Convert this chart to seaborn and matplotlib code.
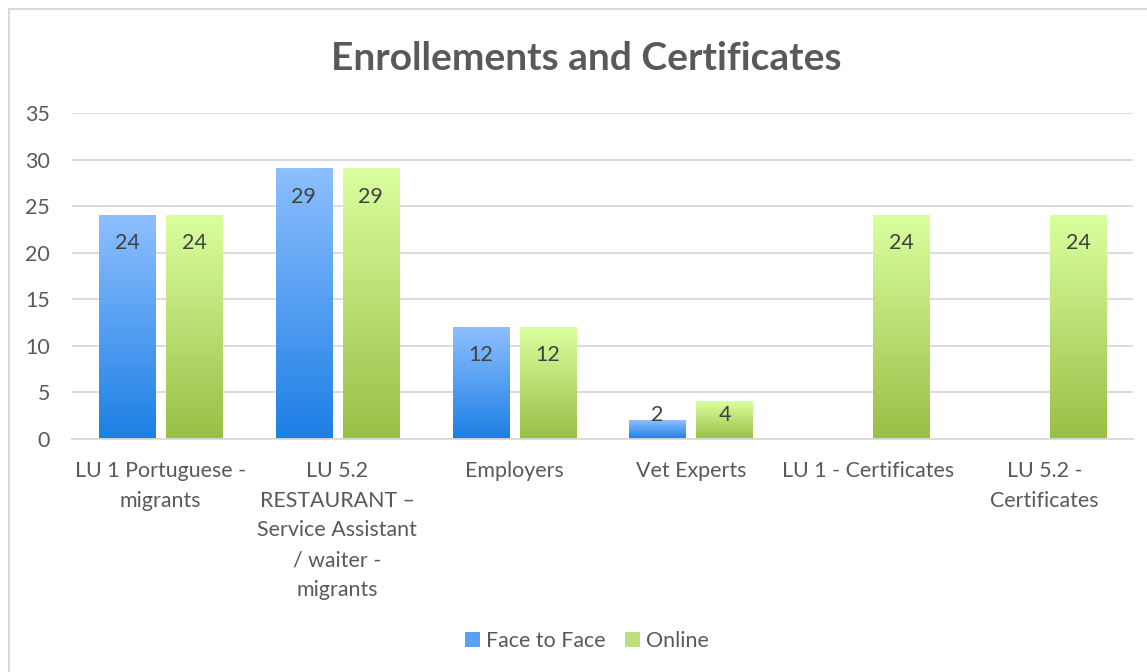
import numpy as np
import pandas as pd
import matplotlib
matplotlib.use("Agg")
import matplotlib.pyplot as plt
import matplotlib.colors as mcolors
from matplotlib.patches import Rectangle, Patch
import seaborn as sns

# =========================
# DATA
# =========================
categories = [
    "LU 1 Portuguese -\nmigrants",
    "LU 5.2\nRESTAURANT \u2013\nService Assistant\n/ waiter -\nmigrants",
    "Employers",
    "Vet Experts",
    "LU 1 - Certificates",
    "LU 5.2 -\nCertificates",
]
face_to_face = [24, 29, 12, 2, 0, 0]
online = [24, 29, 12, 4, 24, 24]
series = ["Face to Face", "Online"]
y_ticks = [0, 5, 10, 15, 20, 25, 30, 35]

# =========================
# STYLE
# =========================
sns.set_style("white")
plt.rcParams["font.family"] = ["Lato", "DejaVu Sans"]
TEXT = "#595959"
GRID = "#D9D9D9"
FS = 15.4
grads = {
    "Face to Face": ("#8EBFFF", "#1C7FE4"),
    "Online": ("#DAFF9F", "#98C046"),
}

df = pd.DataFrame({
    "category": categories * 2,
    "series": [series[0]] * len(categories) + [series[1]] * len(categories),
    "value": face_to_face + online,
})

fig = plt.figure(figsize=(11.47, 6.72), dpi=100)
ax = fig.add_axes([72 / 1147, 1 - 439 / 672, (1133 - 72) / 1147, (439 - 113) / 672])

sns.barplot(data=df, x="category", y="value", hue="series", hue_order=series,
            order=categories, width=0.758, gap=0.164, errorbar=None, ax=ax,
            legend=False)

# gradient fills in place of flat bars
n = len(categories)
for i, p in enumerate(ax.patches[:2 * n]):
    s = series[i // n]
    v = df["value"].iloc[i]
    p.set_visible(False)
    if v <= 0:
        continue
    x0, w, h = p.get_x(), p.get_width(), p.get_height()
    top, bot = grads[s]
    cmap = mcolors.LinearSegmentedColormap.from_list(s, [bot, top])
    grad = np.linspace(1, 0, 256).reshape(-1, 1)
    ax.imshow(grad, cmap=cmap, aspect="auto", extent=[x0, x0 + w, 0, h],
              origin="upper", zorder=2, interpolation="bilinear")
    ax.text(x0 + w / 2, max(v - 3.0, 2.6), str(v), ha="center", va="center",
            fontsize=FS, color="#404040", zorder=3)

ax.set_xlim(-0.5, n - 0.5)
ax.set_ylim(0, 35)
ax.set_yticks(y_ticks)
ax.grid(axis="y", color=GRID, linewidth=1.3, zorder=0)
ax.set_axisbelow(True)
for sp in ["top", "right", "left"]:
    ax.spines[sp].set_visible(False)
ax.spines["bottom"].set_color(GRID)
ax.spines["bottom"].set_linewidth(1.3)
ax.tick_params(axis="both", length=0, labelsize=FS, colors=TEXT)
ax.tick_params(axis="y", pad=16)
ax.tick_params(axis="x", pad=16)
for lbl in ax.get_xticklabels():
    lbl.set_linespacing(1.6)
    lbl.set_va("top")
ax.set_xlabel("")
ax.set_ylabel("")

fig.text(586.5 / 1147, 1 - 59 / 672, "Enrollements and Certificates",
         ha="center", va="center", fontsize=28, fontweight="bold", color=TEXT)

handles = [Patch(facecolor="#5AA0F2", edgecolor="none"),
           Patch(facecolor="#BDE07A", edgecolor="none")]
fig.legend(handles, series, loc="center", bbox_to_anchor=(587 / 1147, 1 - 641 / 672),
           ncol=2, frameon=False, fontsize=FS, labelcolor=TEXT,
           handlelength=0.7, handleheight=0.7, handletextpad=0.3, columnspacing=0.9)

# chart area border
fig.patches.append(Rectangle((9 / 1147, -0.1), 1.2, 1.1 - 9 / 672, transform=fig.transFigure,
                             fill=False, edgecolor=GRID, linewidth=1.5))

fig.savefig("out.png", dpi=100)
